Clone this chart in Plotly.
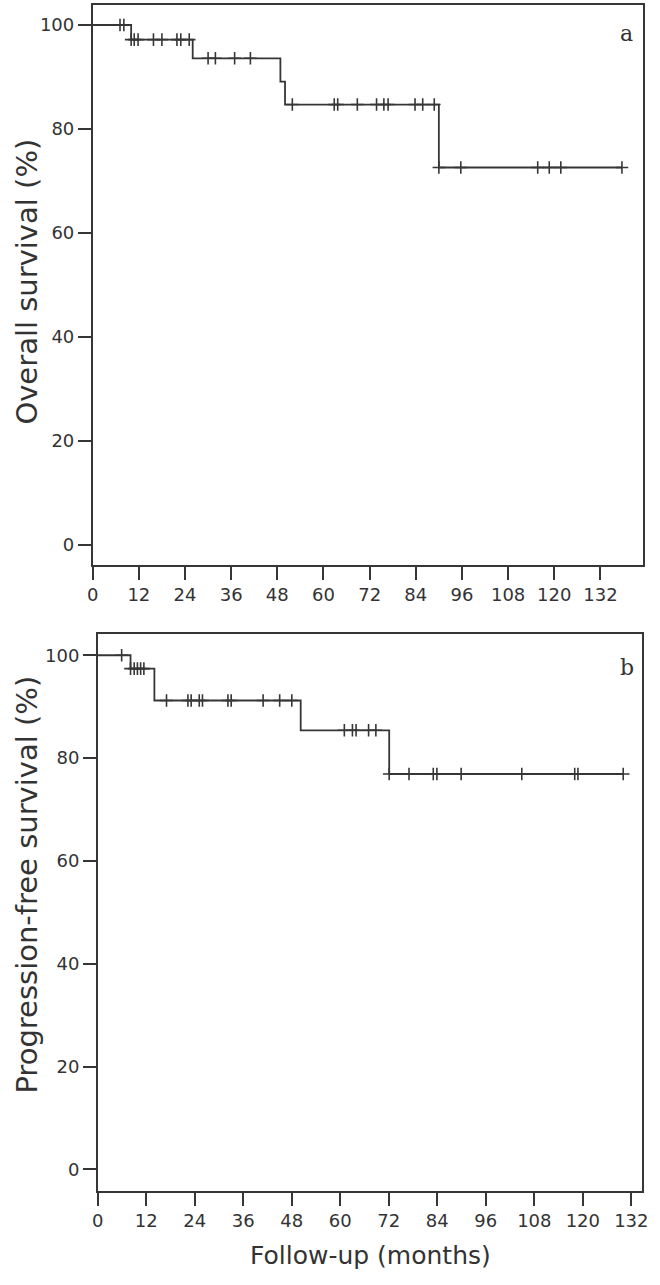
import plotly.graph_objects as go

# ---------------- data ----------------
os_event_months = [10.0, 26.0, 48.8, 50.0, 90.0]
os_event_surv = [97.2, 93.6, 89.1, 84.7, 72.6]
os_censor_months = [7.1, 8.1, 10.0, 10.8, 11.8, 15.8, 18.0, 21.9, 22.9, 25.1,
                    30.0, 31.9, 36.9, 41.0, 51.9, 62.8, 63.7, 68.8, 73.8, 75.7,
                    76.8, 83.8, 85.8, 88.8, 90.0, 95.7, 115.7, 118.7, 121.7, 137.6]

pfs_event_months = [8.1, 14.0, 50.2, 72.1]
pfs_event_surv = [97.4, 91.2, 85.4, 76.9]
pfs_censor_months = [5.9, 8.1, 9.0, 9.8, 10.6, 11.4, 17.0, 22.3, 23.1, 25.1,
                     25.9, 32.2, 33.0, 40.9, 45.0, 48.0, 61.0, 63.0, 63.9, 67.0,
                     68.8, 72.1, 77.0, 83.0, 83.9, 89.9, 104.9, 118.0, 118.8, 130.0]

x_tick_vals = [0, 12, 24, 36, 48, 60, 72, 84, 96, 108, 120, 132]
y_tick_vals = [0, 20, 40, 60, 80, 100]

LINE = "#363636"
TXT = "#333333"
W, H = 660, 1285


def surv_at(t, ev_t, ev_s):
    s = 100.0
    for et, es in zip(ev_t, ev_s):
        if t >= et:
            s = es
    return s


def step_xy(ev_t, ev_s, end_t):
    xs = [0.0] + list(ev_t) + [end_t]
    ys = [100.0] + list(ev_s) + [ev_s[-1]]
    return xs, ys


fig = go.Figure()

panels = [
    (os_event_months, os_event_surv, os_censor_months, "x", "y"),
    (pfs_event_months, pfs_event_surv, pfs_censor_months, "x2", "y2"),
]
for ev_t, ev_s, cens, xa, ya in panels:
    sx, sy = step_xy(ev_t, ev_s, max(cens))
    fig.add_trace(go.Scatter(x=sx, y=sy, mode="lines", line_shape="hv",
                             line=dict(color=LINE, width=1.8),
                             xaxis=xa, yaxis=ya, showlegend=False, hoverinfo="skip"))
    fig.add_trace(go.Scatter(x=cens, y=[surv_at(t, ev_t, ev_s) for t in cens],
                             mode="markers",
                             marker=dict(symbol="cross-thin", size=9,
                                         line=dict(color=LINE, width=1.6)),
                             xaxis=xa, yaxis=ya, showlegend=False, hoverinfo="skip"))


def px_x(v):
    return v / W


def px_y(v):
    return 1 - v / H


axis_common = dict(showline=True, linecolor=LINE, linewidth=1.6, mirror=True,
                   showgrid=False, zeroline=False, ticks="outside",
                   tickcolor=LINE, tickwidth=1.5, ticklen=13,
                   tickfont=dict(family="DejaVu Sans", size=18, color=TXT))

fig.update_layout(
    width=W, height=H,
    margin=dict(l=0, r=0, t=0, b=0),
    paper_bgcolor="white", plot_bgcolor="white",
    xaxis=dict(domain=[px_x(88.3), px_x(649.3)], range=[0, 143.2], anchor="y",
               tickvals=x_tick_vals, **axis_common),
    yaxis=dict(domain=[px_y(565), px_y(5)], range=[-3.85, 103.85], anchor="x",
               tickvals=y_tick_vals, **axis_common),
    xaxis2=dict(domain=[px_x(93.5), px_x(648)], range=[0, 134.7], anchor="y2",
                tickvals=x_tick_vals, **axis_common),
    yaxis2=dict(domain=[px_y(1190.7), px_y(634.3)], range=[-4.16, 104.08], anchor="x2",
                tickvals=y_tick_vals, **axis_common),
)

title_font = dict(family="DejaVu Sans", size=29, color=TXT)
fig.add_annotation(text="Overall survival (%)", x=px_x(21), y=px_y(282),
                   xref="paper", yref="paper", textangle=-90, showarrow=False,
                   font=title_font, xanchor="center", yanchor="middle")
fig.add_annotation(text="Progression-free survival (%)", x=px_x(21), y=px_y(885),
                   xref="paper", yref="paper", textangle=-90, showarrow=False,
                   font=title_font, xanchor="center", yanchor="middle")
fig.add_annotation(text="Follow-up (months)", x=px_x(371), y=px_y(1255),
                   xref="paper", yref="paper", showarrow=False,
                   font=dict(family="DejaVu Sans", size=25, color=TXT),
                   xanchor="center", yanchor="middle")
fig.add_annotation(text="a", x=px_x(632), y=px_y(33), xref="paper", yref="paper",
                   showarrow=False, font=dict(family="DejaVu Serif", size=22, color=TXT),
                   xanchor="center", yanchor="middle")
fig.add_annotation(text="b", x=px_x(632), y=px_y(667), xref="paper", yref="paper",
                   showarrow=False, font=dict(family="DejaVu Serif", size=22, color=TXT),
                   xanchor="center", yanchor="middle")

fig.write_html("out.html", config={"displayModeBar": False},
               post_script="document.body.style.margin='0px';")
